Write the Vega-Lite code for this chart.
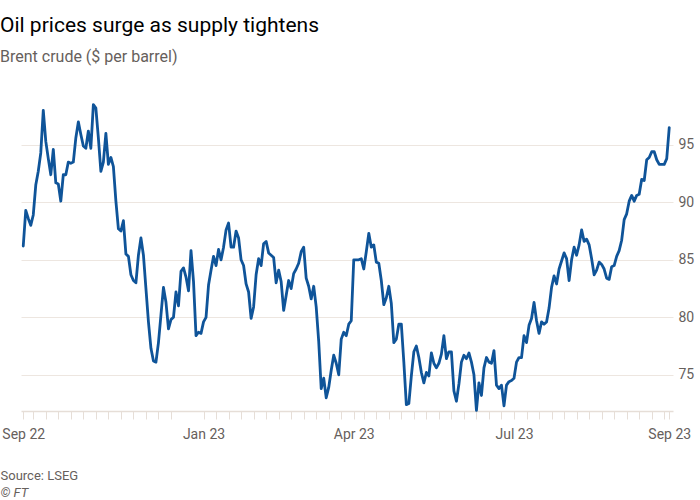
{
  "$schema": "https://vega.github.io/schema/vega-lite/v6.json",
  "width": 652,
  "height": 311,
  "autosize": {"type": "none"},
  "padding": {"left": 21, "top": 100, "right": 27, "bottom": 89},
  "background": "#ffffff",
  "title": {
    "text": "Oil prices surge as supply tightens",
    "subtitle": "Brent crude ($ per barrel)",
    "anchor": "start",
    "frame": "group",
    "dx": -21,
    "offset": 35,
    "font": "Roboto",
    "fontSize": 21,
    "fontWeight": "normal",
    "color": "#000000",
    "subtitleFont": "Roboto",
    "subtitleFontSize": 16,
    "subtitleColor": "#66605c",
    "subtitlePadding": 13
  },
  "config": {
    "view": {"stroke": null},
    "font": "Roboto"
  },
  "data": {
    "values": [
      {"day": 0, "price": 86.2}, {"day": 1, "price": 89.3}, {"day": 2, "price": 88.6}, {"day": 3, "price": 88.0},
      {"day": 4, "price": 88.9}, {"day": 5, "price": 91.5}, {"day": 6, "price": 92.7}, {"day": 7, "price": 94.3},
      {"day": 8, "price": 98.0}, {"day": 9, "price": 95.3}, {"day": 10, "price": 93.8}, {"day": 11, "price": 92.4},
      {"day": 12, "price": 94.6}, {"day": 13, "price": 91.7}, {"day": 14, "price": 91.6}, {"day": 15, "price": 90.1},
      {"day": 16, "price": 92.4}, {"day": 17, "price": 92.4}, {"day": 18, "price": 93.5}, {"day": 19, "price": 93.4},
      {"day": 20, "price": 93.5}, {"day": 21, "price": 95.6}, {"day": 22, "price": 97.0}, {"day": 23, "price": 95.9},
      {"day": 24, "price": 94.9}, {"day": 25, "price": 94.7}, {"day": 26, "price": 96.2}, {"day": 27, "price": 94.7},
      {"day": 28, "price": 98.5}, {"day": 29, "price": 98.2}, {"day": 30, "price": 95.6}, {"day": 31, "price": 92.7},
      {"day": 32, "price": 93.5}, {"day": 33, "price": 96.0}, {"day": 34, "price": 93.3}, {"day": 35, "price": 93.9},
      {"day": 36, "price": 93.1}, {"day": 37, "price": 90.1}, {"day": 38, "price": 87.7}, {"day": 39, "price": 87.5},
      {"day": 40, "price": 88.4}, {"day": 41, "price": 85.5}, {"day": 42, "price": 85.3}, {"day": 43, "price": 83.7},
      {"day": 44, "price": 83.2}, {"day": 45, "price": 83.0}, {"day": 46, "price": 85.4}, {"day": 47, "price": 86.9},
      {"day": 48, "price": 85.4}, {"day": 49, "price": 82.5}, {"day": 50, "price": 79.6}, {"day": 51, "price": 77.3},
      {"day": 52, "price": 76.2}, {"day": 53, "price": 76.1}, {"day": 54, "price": 77.8}, {"day": 55, "price": 80.2},
      {"day": 56, "price": 82.6}, {"day": 57, "price": 81.3}, {"day": 58, "price": 79.0}, {"day": 59, "price": 79.8},
      {"day": 60, "price": 80.0}, {"day": 61, "price": 82.2}, {"day": 62, "price": 81.0}, {"day": 63, "price": 84.0},
      {"day": 64, "price": 84.3}, {"day": 65, "price": 83.5}, {"day": 66, "price": 82.3}, {"day": 67, "price": 85.8},
      {"day": 68, "price": 83.1}, {"day": 69, "price": 78.4}, {"day": 70, "price": 78.7}, {"day": 71, "price": 78.6},
      {"day": 72, "price": 79.6}, {"day": 73, "price": 80.0}, {"day": 74, "price": 82.8}, {"day": 75, "price": 84.1},
      {"day": 76, "price": 85.3}, {"day": 77, "price": 84.5}, {"day": 78, "price": 85.9}, {"day": 79, "price": 85.0},
      {"day": 80, "price": 86.1}, {"day": 81, "price": 87.6}, {"day": 82, "price": 88.2}, {"day": 83, "price": 86.1},
      {"day": 84, "price": 86.1}, {"day": 85, "price": 87.5}, {"day": 86, "price": 86.9}, {"day": 87, "price": 85.0},
      {"day": 88, "price": 84.5}, {"day": 89, "price": 82.9}, {"day": 90, "price": 82.2}, {"day": 91, "price": 79.9},
      {"day": 92, "price": 80.9}, {"day": 93, "price": 83.7}, {"day": 94, "price": 85.1}, {"day": 95, "price": 84.5},
      {"day": 96, "price": 86.4}, {"day": 97, "price": 86.6}, {"day": 98, "price": 85.6}, {"day": 99, "price": 85.4},
      {"day": 100, "price": 85.2}, {"day": 101, "price": 83.0}, {"day": 102, "price": 84.1}, {"day": 103, "price": 83.1},
      {"day": 104, "price": 80.6}, {"day": 105, "price": 81.9}, {"day": 106, "price": 83.2}, {"day": 107, "price": 82.5},
      {"day": 108, "price": 83.8}, {"day": 109, "price": 84.2}, {"day": 110, "price": 84.7}, {"day": 111, "price": 85.7},
      {"day": 112, "price": 86.1}, {"day": 113, "price": 83.4}, {"day": 114, "price": 82.7}, {"day": 115, "price": 81.6},
      {"day": 116, "price": 82.7}, {"day": 117, "price": 80.9}, {"day": 118, "price": 77.9}, {"day": 119, "price": 73.8},
      {"day": 120, "price": 74.7}, {"day": 121, "price": 73.0}, {"day": 122, "price": 73.9}, {"day": 123, "price": 75.4},
      {"day": 124, "price": 76.7}, {"day": 125, "price": 76.0}, {"day": 126, "price": 75.0}, {"day": 127, "price": 78.1},
      {"day": 128, "price": 78.7}, {"day": 129, "price": 78.4}, {"day": 130, "price": 79.4}, {"day": 131, "price": 79.7},
      {"day": 132, "price": 85.0}, {"day": 133, "price": 85.0}, {"day": 134, "price": 85.0}, {"day": 135, "price": 85.1},
      {"day": 136, "price": 84.2}, {"day": 137, "price": 85.7}, {"day": 138, "price": 87.3}, {"day": 139, "price": 86.1},
      {"day": 140, "price": 86.3}, {"day": 141, "price": 84.8}, {"day": 142, "price": 84.7}, {"day": 143, "price": 83.2},
      {"day": 144, "price": 81.1}, {"day": 145, "price": 81.7}, {"day": 146, "price": 82.7}, {"day": 147, "price": 81.2},
      {"day": 148, "price": 77.8}, {"day": 149, "price": 78.1}, {"day": 150, "price": 79.4}, {"day": 151, "price": 79.4},
      {"day": 152, "price": 76.1}, {"day": 153, "price": 72.4}, {"day": 154, "price": 72.5}, {"day": 155, "price": 74.9},
      {"day": 156, "price": 77.0}, {"day": 157, "price": 77.5}, {"day": 158, "price": 76.5}, {"day": 159, "price": 75.2},
      {"day": 160, "price": 74.3}, {"day": 161, "price": 75.2}, {"day": 162, "price": 74.9}, {"day": 163, "price": 76.9},
      {"day": 164, "price": 76.0}, {"day": 165, "price": 75.6}, {"day": 166, "price": 76.0}, {"day": 167, "price": 76.8},
      {"day": 168, "price": 78.4}, {"day": 169, "price": 76.4}, {"day": 170, "price": 77.0}, {"day": 171, "price": 77.0},
      {"day": 172, "price": 73.6}, {"day": 173, "price": 72.7}, {"day": 174, "price": 74.2}, {"day": 175, "price": 76.1},
      {"day": 176, "price": 76.7}, {"day": 177, "price": 76.4}, {"day": 178, "price": 76.9}, {"day": 179, "price": 76.1},
      {"day": 180, "price": 75.0}, {"day": 181, "price": 71.9}, {"day": 182, "price": 74.3}, {"day": 183, "price": 73.2},
      {"day": 184, "price": 75.6}, {"day": 185, "price": 76.5}, {"day": 186, "price": 76.1}, {"day": 187, "price": 76.0},
      {"day": 188, "price": 77.1}, {"day": 189, "price": 74.1}, {"day": 190, "price": 73.8}, {"day": 191, "price": 74.1},
      {"day": 192, "price": 72.3}, {"day": 193, "price": 74.1}, {"day": 194, "price": 74.4}, {"day": 195, "price": 74.5},
      {"day": 196, "price": 74.7}, {"day": 197, "price": 76.1}, {"day": 198, "price": 76.5}, {"day": 199, "price": 76.5},
      {"day": 200, "price": 78.4}, {"day": 201, "price": 77.8}, {"day": 202, "price": 79.3}, {"day": 203, "price": 79.9},
      {"day": 204, "price": 81.3}, {"day": 205, "price": 79.7}, {"day": 206, "price": 78.6}, {"day": 207, "price": 79.6},
      {"day": 208, "price": 79.4}, {"day": 209, "price": 79.6}, {"day": 210, "price": 80.8}, {"day": 211, "price": 82.6},
      {"day": 212, "price": 83.6}, {"day": 213, "price": 82.9}, {"day": 214, "price": 84.2}, {"day": 215, "price": 84.9},
      {"day": 216, "price": 85.6}, {"day": 217, "price": 85.1}, {"day": 218, "price": 83.2}, {"day": 219, "price": 85.0},
      {"day": 220, "price": 86.1}, {"day": 221, "price": 85.4}, {"day": 222, "price": 86.3}, {"day": 223, "price": 87.6},
      {"day": 224, "price": 86.6}, {"day": 225, "price": 86.8}, {"day": 226, "price": 86.3}, {"day": 227, "price": 85.1},
      {"day": 228, "price": 83.7}, {"day": 229, "price": 84.1}, {"day": 230, "price": 84.8}, {"day": 231, "price": 84.6},
      {"day": 232, "price": 84.2}, {"day": 233, "price": 83.4}, {"day": 234, "price": 83.3}, {"day": 235, "price": 84.4},
      {"day": 236, "price": 84.5}, {"day": 237, "price": 85.3}, {"day": 238, "price": 85.8}, {"day": 239, "price": 86.7},
      {"day": 240, "price": 88.5}, {"day": 241, "price": 89.0}, {"day": 242, "price": 90.1}, {"day": 243, "price": 90.6},
      {"day": 244, "price": 90.1}, {"day": 245, "price": 90.6}, {"day": 246, "price": 90.7}, {"day": 247, "price": 92.0},
      {"day": 248, "price": 91.9}, {"day": 249, "price": 93.7}, {"day": 250, "price": 93.9}, {"day": 251, "price": 94.4},
      {"day": 252, "price": 94.4}, {"day": 253, "price": 93.7}, {"day": 254, "price": 93.3}, {"day": 255, "price": 93.3},
      {"day": 256, "price": 93.3}, {"day": 257, "price": 93.8}, {"day": 258, "price": 96.5}
    ]
  },
  "mark": {"type": "line", "color": "#0f5499", "strokeWidth": 2.8, "strokeJoin": "round", "strokeCap": "round", "clip": false},
  "encoding": {
    "x": {
      "field": "day",
      "type": "quantitative",
      "scale": {"domain": [-0.9, 259.5], "nice": false, "zero": false},
      "axis": {
        "title": "Source: LSEG",
        "titleFont": "Roboto",
        "titleFontSize": 13,
        "titleFontWeight": "normal",
        "titleColor": "#66605c",
        "titleAnchor": "start",
        "titleAlign": "left",
        "titleBaseline": "alphabetic",
        "titleX": -21,
        "titleY": 68,
        "values": [0, 4, 9, 14, 19, 24, 29, 34, 39, 44, 49, 54, 59, 72, 77, 82, 87, 92, 97, 102, 107, 112, 117, 122, 127, 132, 136, 141, 146, 151, 156, 161, 166, 171, 176, 181, 186, 191, 196, 201, 206, 211, 216, 221, 226, 231, 236, 241, 246, 251, 256, 258],
        "labelExpr": "datum.value == 0 ? 'Sep 22' : datum.value == 72 ? 'Jan 23' : datum.value == 132 ? 'Apr 23' : datum.value == 196 ? 'Jul 23' : datum.value == 258 ? 'Sep 23' : ''",
        "labelOverlap": false,
        "labelFlush": false,
        "labelFont": "Roboto",
        "labelFontSize": 14,
        "labelColor": "#66605c",
        "labelPadding": 8,
        "grid": false,
        "domainColor": "#e6ded7",
        "domainWidth": 1.5,
        "tickColor": "#e6ded7",
        "tickSize": 8,
        "tickWidth": 1
      }
    },
    "y": {
      "field": "price",
      "type": "quantitative",
      "scale": {"domain": [71.85, 98.9], "nice": false, "zero": false},
      "axis": {
        "orient": "right",
        "title": "© FT",
        "titleFont": "Roboto",
        "titleFontSize": 13,
        "titleFontStyle": "italic",
        "titleFontWeight": "normal",
        "titleColor": "#66605c",
        "titleAngle": 0,
        "titleAlign": "left",
        "titleBaseline": "alphabetic",
        "titleX": -673,
        "titleY": 396,
        "values": [75, 80, 85, 90, 95],
        "labelFont": "Roboto",
        "labelFontSize": 14,
        "labelColor": "#66605c",
        "labelPadding": 5,
        "labelBaseline": "middle",
        "domain": false,
        "ticks": false,
        "grid": true,
        "gridColor": "#ede6e0",
        "gridWidth": 1
      }
    }
  }
}
